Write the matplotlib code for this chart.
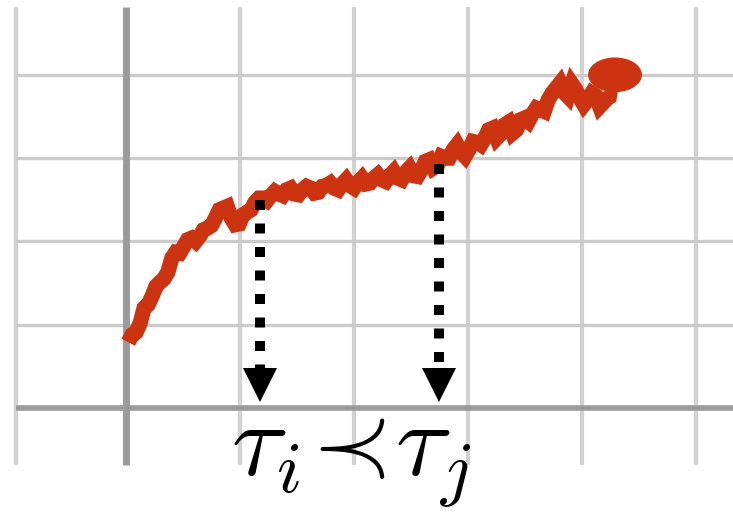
import numpy as np
import matplotlib
matplotlib.use('Agg')
import matplotlib.pyplot as plt
from matplotlib.patches import Ellipse

plt.rcParams['mathtext.fontset'] = 'cm'

# noisy curve, in grid units (one grid cell = 1)
curve_y = [0.79, 0.88, 0.91, 1.02, 1.20, 1.24, 1.34, 1.46, 1.51, 1.55,
           1.63, 1.80, 1.87, 1.86, 1.94, 2.02, 2.04, 2.00, 2.06, 2.14,
           2.16, 2.19, 2.28, 2.38, 2.40, 2.42, 2.28, 2.20, 2.21, 2.32,
           2.35, 2.38, 2.47, 2.52, 2.52, 2.49, 2.55, 2.60, 2.57, 2.55,
           2.62, 2.64, 2.57, 2.56, 2.62, 2.66, 2.64, 2.58, 2.59, 2.66,
           2.67, 2.70, 2.64, 2.62, 2.69, 2.74, 2.67, 2.64, 2.71, 2.76,
           2.69, 2.70, 2.76, 2.80, 2.74, 2.72, 2.79, 2.84, 2.76, 2.74,
           2.83, 2.88, 2.79, 2.78, 2.86, 2.96, 2.98, 2.88, 2.91, 3.02,
           3.00, 3.00, 3.10, 3.16, 3.07, 3.02, 3.10, 3.20, 3.19, 3.16,
           3.24, 3.34, 3.36, 3.24, 3.29, 3.40, 3.43, 3.30, 3.34, 3.46,
           3.48, 3.44, 3.53, 3.60, 3.58, 3.56, 3.70, 3.78, 3.84, 3.90,
           3.79, 3.74, 3.89, 3.82, 3.72, 3.64, 3.70, 3.78, 3.75, 3.62,
           3.67, 3.72, 3.75]
curve_x = np.linspace(0.02, 4.26, len(curve_y))
end_point = (4.29, 4.0)

# the two marked times
tau_x = [1.175, 2.745]
tau_label = r'$\tau_i\!\prec\!\tau_j$'

grid_x = [-0.965, 1, 2, 3, 4, 5]
grid_y = [1, 2, 3, 4]

red = '#cc3311'

fig = plt.figure(figsize=(7.33, 5.13), dpi=100)
ax = fig.add_axes([0, 0, 1, 1])
ax.set_xlim(-1.105, 5.325)
ax.set_ylim(-1.26, 4.898)
ax.axis('off')

# grid
ax.vlines(grid_x, -0.684, 4.814, color='#d2d2d2', lw=3.0, zorder=1)
ax.hlines(grid_y, -0.965, 5.4, color='#cbcbcb', lw=2.4, zorder=1)
ax.vlines([0], -0.684, 4.814, color='#9b9b9b', lw=5.0, zorder=2)
ax.hlines([0], -0.965, 5.4, color='#9b9b9b', lw=4.0, zorder=2)

# the curve
ax.plot(curve_x, curve_y, color=red, lw=11, solid_joinstyle='miter',
        solid_capstyle='butt', zorder=3)
ax.plot([curve_x[-1], end_point[0]], [curve_y[-1], end_point[1]],
        color=red, lw=8, zorder=3)
ax.add_patch(Ellipse(end_point, 0.46, 0.40, color=red, zorder=4))

# dotted arrows down to the axis
for tx in tau_x:
    top = np.interp(tx, curve_x, curve_y)
    ax.plot([tx, tx], [top - 0.02, 0.35], color='black', lw=7.2,
            linestyle=(0, (1.0, 1.35)), dash_capstyle='butt', zorder=5)
    ax.plot([tx], [0.28], marker='v', markersize=25, color='black',
            markeredgewidth=0, zorder=5)

ax.text(np.mean(tau_x) + 0.02, -0.81, tau_label, fontsize=75, ha='center',
        va='baseline', color='black')

fig.savefig('out.png', dpi=100)
